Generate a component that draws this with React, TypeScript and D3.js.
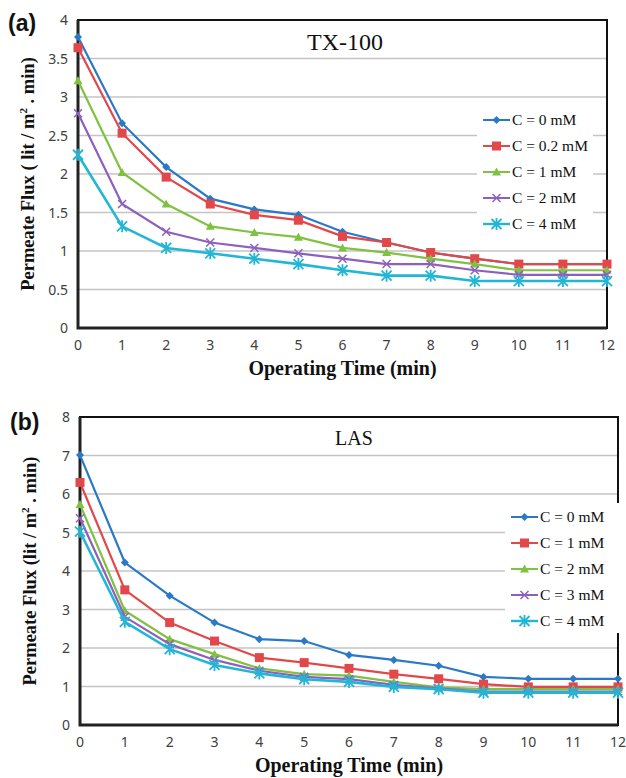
import { useEffect, useRef } from "react";
import * as d3 from "d3";

const TIME = [0, 1, 2, 3, 4, 5, 6, 7, 8, 9, 10, 11, 12];
const COLORS = ["#2a79c6", "#e2474a", "#7fc241", "#8e60bd", "#22b6d6"];
const MARKERS = ["diamond", "square", "triangle", "cross", "asterisk"];

// panel (a) - TX-100
const TX_LABELS = ["C = 0 mM", "C = 0.2 mM", "C = 1 mM", "C = 2 mM", "C = 4 mM"];
const TX_C0 = [3.78, 2.66, 2.09, 1.68, 1.54, 1.47, 1.25, 1.11, 0.98, 0.9, 0.83, 0.83, 0.83];
const TX_C02 = [3.64, 2.53, 1.96, 1.61, 1.47, 1.4, 1.19, 1.11, 0.98, 0.9, 0.83, 0.83, 0.83];
const TX_C1 = [3.21, 2.02, 1.61, 1.32, 1.24, 1.18, 1.04, 0.98, 0.9, 0.83, 0.75, 0.75, 0.75];
const TX_C2 = [2.79, 1.61, 1.25, 1.11, 1.04, 0.97, 0.9, 0.83, 0.83, 0.75, 0.69, 0.69, 0.69];
const TX_C4 = [2.25, 1.32, 1.04, 0.97, 0.9, 0.83, 0.75, 0.68, 0.68, 0.61, 0.61, 0.61, 0.61];
const TX_TICKS = [0, 0.5, 1, 1.5, 2, 2.5, 3, 3.5, 4];

// panel (b) - LAS
const LAS_LABELS = ["C = 0 mM", "C = 1 mM", "C = 2 mM", "C = 3 mM", "C = 4 mM"];
const LAS_C0 = [7.01, 4.22, 3.36, 2.66, 2.23, 2.18, 1.82, 1.69, 1.54, 1.25, 1.2, 1.2, 1.2];
const LAS_C1 = [6.3, 3.51, 2.66, 2.18, 1.75, 1.62, 1.47, 1.32, 1.2, 1.06, 0.99, 0.99, 0.99];
const LAS_C2 = [5.73, 2.97, 2.23, 1.84, 1.47, 1.32, 1.28, 1.12, 0.98, 0.93, 0.93, 0.93, 0.93];
const LAS_C3 = [5.37, 2.81, 2.1, 1.69, 1.41, 1.25, 1.19, 1.04, 0.95, 0.87, 0.87, 0.87, 0.87];
const LAS_C4 = [5.02, 2.68, 1.97, 1.56, 1.34, 1.19, 1.12, 0.99, 0.93, 0.84, 0.84, 0.84, 0.84];
const LAS_TICKS = [0, 1, 2, 3, 4, 5, 6, 7, 8];

const SERIF = "'Liberation Serif', 'DejaVu Serif', serif";
const SANS = "'Noto Sans', 'Liberation Sans', sans-serif";

const drawMarker = (g, kind, x, y, color) => {
  if (kind === "diamond") {
    g.append("path")
      .attr("d", `M${x},${y - 4}L${x + 4},${y}L${x},${y + 4}L${x - 4},${y}Z`)
      .attr("fill", color);
  } else if (kind === "square") {
    g.append("rect").attr("x", x - 4.5).attr("y", y - 4.5)
      .attr("width", 9).attr("height", 9).attr("fill", color);
  } else if (kind === "triangle") {
    g.append("path")
      .attr("d", `M${x},${y - 4.5}L${x + 4.5},${y + 3.5}L${x - 4.5},${y + 3.5}Z`)
      .attr("fill", color);
  } else if (kind === "cross") {
    g.append("path")
      .attr("d", `M${x - 4},${y - 4}L${x + 4},${y + 4}M${x - 4},${y + 4}L${x + 4},${y - 4}`)
      .attr("stroke", color).attr("stroke-width", 1.5);
  } else {
    g.append("path")
      .attr("d", `M${x - 5},${y - 5}L${x + 5},${y + 5}M${x - 5},${y + 5}L${x + 5},${y - 5}M${x},${y - 6}L${x},${y + 6}`)
      .attr("stroke", color).attr("stroke-width", 1.8);
  }
};

const Panel = ({ svgRef, box, series, labels, ticks, tag, title, titleSize, titleX, titleY, yTitle, legendX, legendY }) => {
  useEffect(() => {
    const root = d3.select(svgRef.current).append("g");
    const { left, right, top, bottom } = box;

    const x = d3.scaleLinear().domain([0, 12]).range([left, right]);
    const y = d3.scaleLinear().domain([0, ticks[ticks.length - 1]]).range([bottom, top]);

    // gridlines
    root.append("g").selectAll("line")
      .data(ticks.slice(1, -1))
      .join("line")
      .attr("x1", left).attr("x2", right)
      .attr("y1", d => y(d)).attr("y2", d => y(d))
      .attr("stroke", "#c4c4c4").attr("stroke-width", 1.5);

    // frame
    root.append("rect")
      .attr("x", left).attr("y", top)
      .attr("width", right - left).attr("height", bottom - top)
      .attr("fill", "none").attr("stroke", "#111").attr("stroke-width", 2);
    root.append("path")
      .attr("d", `M${left},${top}L${left},${bottom}L${right},${bottom}`)
      .attr("fill", "none").attr("stroke", "#222").attr("stroke-width", 3);

    // tick labels
    root.append("g").selectAll("text")
      .data(ticks)
      .join("text")
      .attr("x", left - 10).attr("y", d => y(d))
      .attr("dy", "0.36em")
      .attr("text-anchor", "end")
      .attr("font-family", SANS).attr("font-size", 14).attr("fill", "#404040")
      .text(d => d);
    root.append("g").selectAll("text")
      .data(TIME)
      .join("text")
      .attr("x", d => x(d)).attr("y", bottom + 22)
      .attr("text-anchor", "middle")
      .attr("font-family", SANS).attr("font-size", 14).attr("fill", "#404040")
      .text(d => d);

    // axis titles
    root.append("text")
      .attr("x", (left + right) / 2).attr("y", bottom + 47)
      .attr("text-anchor", "middle")
      .attr("font-family", SERIF).attr("font-weight", "bold").attr("font-size", 20)
      .attr("fill", "#111")
      .text("Operating Time (min)");
    const yt = root.append("text")
      .attr("transform", `translate(${left - 44},${(top + bottom) / 2}) rotate(-90)`)
      .attr("text-anchor", "middle")
      .attr("font-family", SERIF).attr("font-weight", "bold").attr("font-size", 18.5)
      .attr("fill", "#111");
    yt.append("tspan").text(yTitle[0]);
    yt.append("tspan").attr("font-size", 11).attr("dy", -7).text("2");
    yt.append("tspan").attr("dy", 7).text(yTitle[1]);

    // panel tag and title
    root.append("text")
      .attr("x", tag.x).attr("y", tag.y)
      .attr("font-family", "'Liberation Sans', Arial, sans-serif")
      .attr("font-weight", "bold").attr("font-size", 23).attr("fill", "#111")
      .text(tag.text);
    root.append("text")
      .attr("x", titleX).attr("y", titleY)
      .attr("font-family", SERIF).attr("font-size", titleSize).attr("fill", "#111")
      .text(title);

    // series
    const line = d3.line().x((d, i) => x(TIME[i])).y(d => y(d));
    series.forEach((vals, k) => {
      const g = root.append("g");
      g.append("path")
        .attr("d", line(vals))
        .attr("fill", "none")
        .attr("stroke", COLORS[k])
        .attr("stroke-width", k === 4 ? 2.6 : 2.2);
      vals.forEach((v, i) => drawMarker(g, MARKERS[k], x(TIME[i]), y(v), COLORS[k]));
    });

    // legend
    const lg = root.append("g");
    lg.append("rect")
      .attr("x", legendX - 6).attr("y", legendY - 14)
      .attr("width", 116).attr("height", 130)
      .attr("fill", "#fff");
    labels.forEach((lab, k) => {
      const ly = legendY + k * 26;
      lg.append("line")
        .attr("x1", legendX).attr("x2", legendX + 27)
        .attr("y1", ly).attr("y2", ly)
        .attr("stroke", COLORS[k]).attr("stroke-width", k === 4 ? 2.4 : 2);
      drawMarker(lg, MARKERS[k], legendX + 13.5, ly, COLORS[k]);
      lg.append("text")
        .attr("x", legendX + 29).attr("y", ly + 5)
        .attr("font-family", SERIF).attr("font-size", 15.5).attr("fill", "#111")
        .text(lab);
    });

    return () => { root.remove(); };
  }, [svgRef, box, series, labels, ticks, tag, title, titleSize, titleX, titleY, yTitle, legendX, legendY]);

  return null;
};

const BOX_A = { left: 78, right: 607, top: 20, bottom: 328 };
const BOX_B = { left: 80, right: 618, top: 417, bottom: 725 };
const SERIES_A = [TX_C0, TX_C02, TX_C1, TX_C2, TX_C4];
const SERIES_B = [LAS_C0, LAS_C1, LAS_C2, LAS_C3, LAS_C4];
const TAG_A = { text: "(a)", x: 8, y: 31 };
const TAG_B = { text: "(b)", x: 10, y: 430 };
const YT_A = ["Permeate Flux ( lit / m", " . min)"];
const YT_B = ["Permeate Flux (lit / m", " . min)"];

export default function App() {
  const svgRef = useRef(null);
  return (
    <svg
      ref={svgRef}
      width={626}
      height={778}
      style={{ position: "absolute", left: 0, top: 0, background: "#fff" }}
    >
      <rect width={626} height={778} fill="#fff" />
      <Panel svgRef={svgRef} box={BOX_A} series={SERIES_A} labels={TX_LABELS} ticks={TX_TICKS}
        tag={TAG_A} title="TX-100" titleSize={24} titleX={307} titleY={50} yTitle={YT_A}
        legendX={483} legendY={120} />
      <Panel svgRef={svgRef} box={BOX_B} series={SERIES_B} labels={LAS_LABELS} ticks={LAS_TICKS}
        tag={TAG_B} title="LAS" titleSize={20} titleX={335} titleY={445} yTitle={YT_B}
        legendX={511} legendY={517} />
    </svg>
  );
}
